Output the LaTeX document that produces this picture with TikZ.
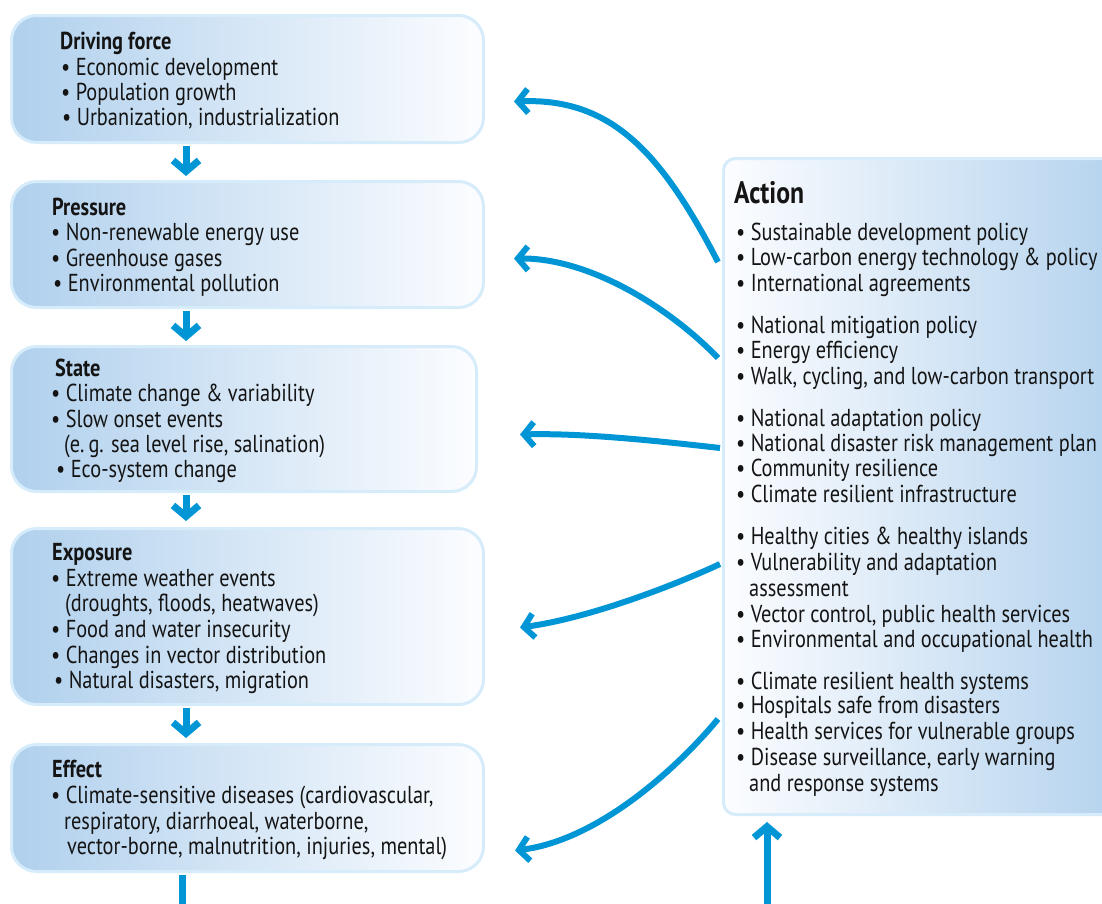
\documentclass[tikz,border=0pt]{standalone}
\usepackage{fontspec}
\setmainfont{PT Sans}[FakeStretch=0.83]
\usetikzlibrary{arrows.meta}
\definecolor{arrowblue}{RGB}{0,150,214}
\definecolor{boxedge}{RGB}{214,236,250}
\definecolor{boxblue}{RGB}{176,208,237}
\definecolor{boxwhite}{RGB}{252,253,255}
\definecolor{ink}{RGB}{20,20,20}
\begin{document}
\begin{tikzpicture}[x=1pt,y=-1pt,
  leftbox/.style={draw=boxedge, line width=3pt, rounded corners=25pt,
    left color=boxblue, right color=boxwhite, anchor=north west,
    inner sep=0pt, minimum width=472pt},
  actbox/.style={draw=boxedge, line width=3pt, rounded corners=12pt,
    left color=boxwhite, right color=boxblue, anchor=north west,
    inner sep=0pt},
  txt/.style={anchor=base west, inner sep=0pt, font=\fontsize{24.5}{26}\selectfont, text=ink},
  ttl/.style={txt, font=\fontsize{24.5}{26}\selectfont\bfseries},
  bigttl/.style={txt, font=\fontsize{31}{33}\selectfont\bfseries},
  flowarrow/.style={draw=arrowblue, line width=7pt, -{Straight Barb[length=11pt,width=26pt]}},
  curvearrow/.style={draw=arrowblue, line width=6pt, -{Straight Barb[length=10pt,width=24pt]}},
  plainline/.style={draw=arrowblue, line width=7pt}
]
\useasboundingbox (0,0) rectangle (1102,903);
\clip (0,0) rectangle (1102,903);

% left boxes
\node[leftbox, minimum height=127pt] (b1) at (10,14) {};
\node[leftbox, minimum height=126pt] (b2) at (10,180) {};
\node[leftbox, minimum height=145pt, minimum width=465pt] (b3) at (10,345) {};
\node[leftbox, minimum height=176pt] (b4) at (10,527) {};
\node[leftbox, minimum height=127pt] (b5) at (10,743) {};

% action box
\node[actbox, minimum width=420pt, minimum height=656pt] (act) at (722,157) {};

% texts box 1
\node[ttl] (t1) at (60,49) {Driving force};
\node[txt] (t1a) at (61,75) {• Economic development};
\node[txt] (t1b) at (61,100) {• Population growth};
\node[txt] (t1c) at (62,125) {• Urbanization, industrialization};

% box 2
\node[ttl] (t2) at (52,215) {Pressure};
\node[txt] (t2a) at (51,240) {• Non-renewable energy use};
\node[txt] (t2b) at (51,266) {• Greenhouse gases};
\node[txt] (t2c) at (53,291) {• Environmental pollution};

% box 3
\node[ttl] (t3) at (55,376) {State};
\node[txt] (t3a) at (51,401) {• Climate change \& variability};
\node[txt] (t3b) at (51,427) {• Slow onset events};
\node[txt] (t3c) at (64,452) {(e.\,g. sea level rise, salination)};
\node[txt] (t3d) at (56,477) {• Eco-system change};

% box 4
\node[ttl] (t4) at (52,560) {Exposure};
\node[txt] (t4a) at (51,586) {• Extreme weather events};
\node[txt] (t4b) at (65,611) {(droughts, floods, heatwaves)};
\node[txt] (t4c) at (51,637) {• Food and water insecurity};
\node[txt] (t4d) at (51,663) {• Changes in vector distribution};
\node[txt] (t4e) at (54,688) {• Natural disasters, migration};

% box 5
\node[ttl] (t5) at (52,777) {Effect};
\node[txt] (t5a) at (51,803) {• Climate-sensitive diseases (cardiovascular,};
\node[txt] (t5b) at (64,829) {respiratory, diarrhoeal, waterborne,};
\node[txt] (t5c) at (67,854) {vector-borne, malnutrition, injuries, mental)};

% action texts
\node[bigttl] (ta) at (734,203) {Action};
\node[txt] (a1) at (736,240) {• Sustainable development policy};
\node[txt] (a2) at (736,265) {• Low-carbon energy technology \& policy};
\node[txt] (a3) at (736,291) {• International agreements};
\node[txt] (a4) at (736,333) {• National mitigation policy};
\node[txt] (a5) at (736,358) {• Energy efficiency};
\node[txt] (a6) at (736,384) {• Walk, cycling, and low-carbon transport};
\node[txt] (a7) at (736,426) {• National adaptation policy};
\node[txt] (a8) at (736,451) {• National disaster risk management plan};
\node[txt] (a9) at (736,476) {• Community resilience};
\node[txt] (a10) at (736,502) {• Climate resilient infrastructure};
\node[txt] (a11) at (736,544) {• Healthy cities \& healthy islands};
\node[txt] (a12) at (736,570) {• Vulnerability and adaptation};
\node[txt] (a13) at (749,596) {assessment};
\node[txt] (a14) at (736,622) {• Vector control, public health services};
\node[txt] (a15) at (736,647) {• Environmental and occupational health};
\node[txt] (a16) at (736,689) {• Climate resilient health systems};
\node[txt] (a17) at (736,713) {• Hospitals safe from disasters};
\node[txt] (a18) at (736,739) {• Health services for vulnerable groups};
\node[txt] (a19) at (736,765) {• Disease surveillance, early warning};
\node[txt] (a20) at (749,791) {and response systems};

% down arrows
\draw[flowarrow] ([xshift=176pt,yshift=-2pt]b1.south west) -- ([xshift=176pt,yshift=4pt]b2.north west);
\draw[flowarrow] ([xshift=176pt,yshift=-2pt]b2.south west) -- ([xshift=176pt,yshift=4pt]b3.north west);
\draw[flowarrow] ([xshift=176pt,yshift=-2pt]b3.south west) -- ([xshift=176pt,yshift=6pt]b4.north west);
\draw[flowarrow] ([xshift=176pt,yshift=-2pt]b4.south west) -- ([xshift=176pt,yshift=5pt]b5.north west);

% bottom line and up arrow
\coordinate (bottomleft) at (182,908);
\coordinate (bottomright) at (767,908);
\draw[plainline] ([xshift=172pt,yshift=-2pt]b5.south west) -- (bottomleft);
\draw[flowarrow] (bottomright) -- ([xshift=45pt,yshift=-6pt]act.south west);

% curved arrows
\draw[curvearrow] ([xshift=-4pt,yshift=-105pt]act.north west)
  .. controls (660,150) and (610,98) .. ([xshift=29pt,yshift=-22.5pt]b1.east);
\draw[curvearrow] ([xshift=-4pt,yshift=-201pt]act.north west)
  .. controls (670,308) and (590,258) .. ([xshift=29pt,yshift=-14pt]b2.east);
\draw[curvearrow] ([xshift=-2pt,yshift=-291pt]act.north west)
  .. controls (650,440) and (580,433) .. ([xshift=42pt,yshift=-15.5pt]b3.east);
\draw[curvearrow] ([xshift=-2pt,yshift=-407pt]act.north west)
  .. controls (675,585) and (590,618) .. ([xshift=35pt,yshift=-11pt]b4.east);
\draw[curvearrow] ([xshift=-4pt,yshift=-562pt]act.north west)
  .. controls (680,765) and (600,840) .. ([xshift=30pt,yshift=-42.5pt]b5.east);
\end{tikzpicture}
\end{document}
